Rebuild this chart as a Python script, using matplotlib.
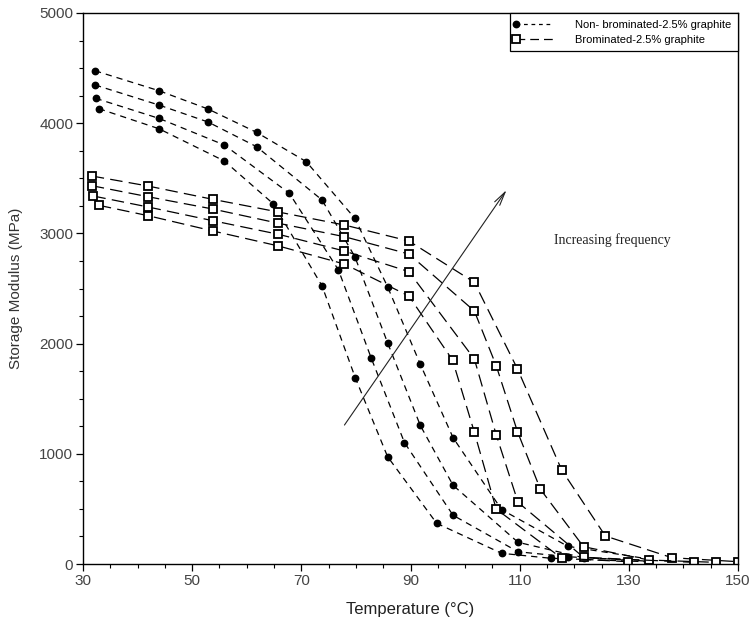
import matplotlib
matplotlib.use("Agg")
import matplotlib.pyplot as plt
from matplotlib.ticker import MultipleLocator, FixedLocator
from matplotlib.legend_handler import HandlerLine2D
from matplotlib.lines import Line2D

# Non-brominated-2.5% graphite (4 frequencies, low -> high)
nb_t4 = [32.9, 43.9, 55.9, 64.9, 73.8, 79.9, 85.8, 94.8, 106.7, 115.7, 133.7]
nb_e4 = [4132, 3950, 3657, 3267, 2523, 1688, 974, 369, 97, 52, 20]
nb_t3 = [32.3, 43.9, 55.9, 67.8, 76.8, 82.8, 88.9, 97.8, 109.7, 118.8, 133.7]
nb_e3 = [4226, 4044, 3802, 3364, 2668, 1869, 1101, 442, 111, 66, 25]
nb_t2 = [32.2, 43.9, 52.9, 61.8, 73.8, 79.8, 85.8, 91.8, 97.8, 109.7, 121.7, 133.7]
nb_e2 = [4347, 4165, 4011, 3787, 3303, 2789, 2008, 1257, 714, 197, 57, 30]
nb_t1 = [32.2, 43.9, 52.9, 61.8, 70.9, 79.8, 85.8, 91.8, 97.8, 106.7, 118.8, 133.7]
nb_e1 = [4476, 4295, 4129, 3917, 3651, 3137, 2516, 1812, 1146, 493, 161, 45]

# Brominated-2.5% graphite (4 frequencies, low -> high)
br_t4 = [32.9, 41.9, 53.8, 65.8, 77.9, 89.7, 97.7, 101.7, 105.7, 117.7, 129.8]
br_e4 = [3255, 3161, 3022, 2886, 2722, 2432, 1851, 1195, 499, 52, 21]
br_t3 = [31.9, 41.9, 53.8, 65.8, 77.9, 89.7, 101.7, 105.7, 109.7, 121.7, 141.9]
br_e3 = [3339, 3240, 3115, 2992, 2840, 2653, 1860, 1173, 560, 61, 15]
br_t2 = [31.6, 41.9, 53.8, 65.8, 77.9, 89.7, 101.7, 105.7, 109.6, 113.8, 121.7, 133.7, 146.0]
br_e2 = [3433, 3333, 3221, 3092, 2970, 2813, 2296, 1800, 1201, 678, 157, 36, 15]
br_t1 = [31.6, 41.9, 53.8, 65.8, 77.9, 89.7, 101.7, 109.6, 117.7, 125.7, 137.9, 150.0]
br_e1 = [3521, 3430, 3309, 3194, 3076, 2931, 2556, 1770, 853, 254, 57, 21]

x_ticks = [30, 50, 70, 90, 110, 130, 150]
y_ticks = [0, 1000, 2000, 3000, 4000, 5000]
legend_labels = ["Non- brominated-2.5% graphite", "Brominated-2.5% graphite"]
x_label = "Temperature (\u00b0C)"
y_label = "Storage Modulus (MPa)"
annot_text = "Increasing frequency"
arrow_start = (77.9, 1261)
arrow_end = (107.6, 3394)

narrow = ["Liberation Sans Narrow", "Liberation Sans", "DejaVu Sans"]
sans = ["Liberation Sans", "DejaVu Sans"]
serif = ["Liberation Serif", "DejaVu Serif"]

fig = plt.figure(figsize=(7.5, 6.21), dpi=100)
ax = fig.add_axes([83 / 750, 1 - 564 / 621, (738 - 83) / 750, (564 - 13) / 621])

nb_style = dict(color="black", lw=0.9, ls=(0, (5, 4)), marker="o", ms=4.6,
                mfc="black", mec="black")
br_style = dict(color="black", lw=0.9, ls=(0, (10, 5)), marker="s", ms=5.6,
                mfc="white", mec="black", mew=1.3)

for t, e in [(nb_t1, nb_e1), (nb_t2, nb_e2), (nb_t3, nb_e3), (nb_t4, nb_e4)]:
    ax.plot(t, e, **nb_style)
for t, e in [(br_t1, br_e1), (br_t2, br_e2), (br_t3, br_e3), (br_t4, br_e4)]:
    ax.plot(t, e, **br_style)

ax.set_xlim(30, 150)
ax.set_ylim(0, 5000)
ax.xaxis.set_major_locator(FixedLocator(x_ticks))
ax.xaxis.set_minor_locator(MultipleLocator(5))
ax.yaxis.set_major_locator(FixedLocator(y_ticks))
ax.yaxis.set_minor_locator(MultipleLocator(250))
ax.tick_params(which="major", direction="out", length=5, width=0.9,
               labelsize=11, labelcolor="#444444", pad=2)
ax.tick_params(which="minor", direction="out", length=3, width=0.8)
for lab in ax.get_xticklabels() + ax.get_yticklabels():
    lab.set_family(narrow)
for s in ax.spines.values():
    s.set_linewidth(1.0)

ax.set_xlabel(x_label, family=narrow, fontsize=12, color="#222222", labelpad=10)
ax.set_ylabel(y_label, family=sans, fontsize=11, color="#333333", labelpad=12)

ax.annotate("", xy=arrow_end, xytext=arrow_start,
            arrowprops=dict(arrowstyle="->,head_length=1.0,head_width=0.22",
                            lw=0.8, color="#222222", shrinkA=0, shrinkB=0))
ax.text(116.2, 2940, annot_text, family=serif, fontsize=10, color="#222222",
        va="center", ha="left")


class LeftMarkerHandler(HandlerLine2D):
    def create_artists(self, legend, orig_handle, xdescent, ydescent, width,
                       height, fontsize, trans):
        arts = super().create_artists(legend, orig_handle, xdescent, ydescent,
                                      width, height, fontsize, trans)
        for a in arts:
            a.set_markevery([0])
        return arts


h1 = Line2D([], [], color="black", lw=0.9, ls=(0, (3, 3)), marker="o", ms=4.6,
            mfc="black", mec="black")
h2 = Line2D([], [], color="black", lw=0.9, ls=(0, (7, 4)), marker="s", ms=5.6,
            mfc="white", mec="black", mew=1.3)
leg = ax.legend([h1, h2], legend_labels, loc="upper right",
                bbox_to_anchor=(1.0, 1.0), borderaxespad=0.0, frameon=True,
                fancybox=False, edgecolor="black", framealpha=1,
                prop=dict(family=sans, size=8), numpoints=1,
                handlelength=3.3, handletextpad=2.0, labelspacing=0.45,
                borderpad=0.6,
                handler_map={Line2D: LeftMarkerHandler()})
leg.get_frame().set_linewidth(0.9)

fig.savefig("out.png", dpi=100)
